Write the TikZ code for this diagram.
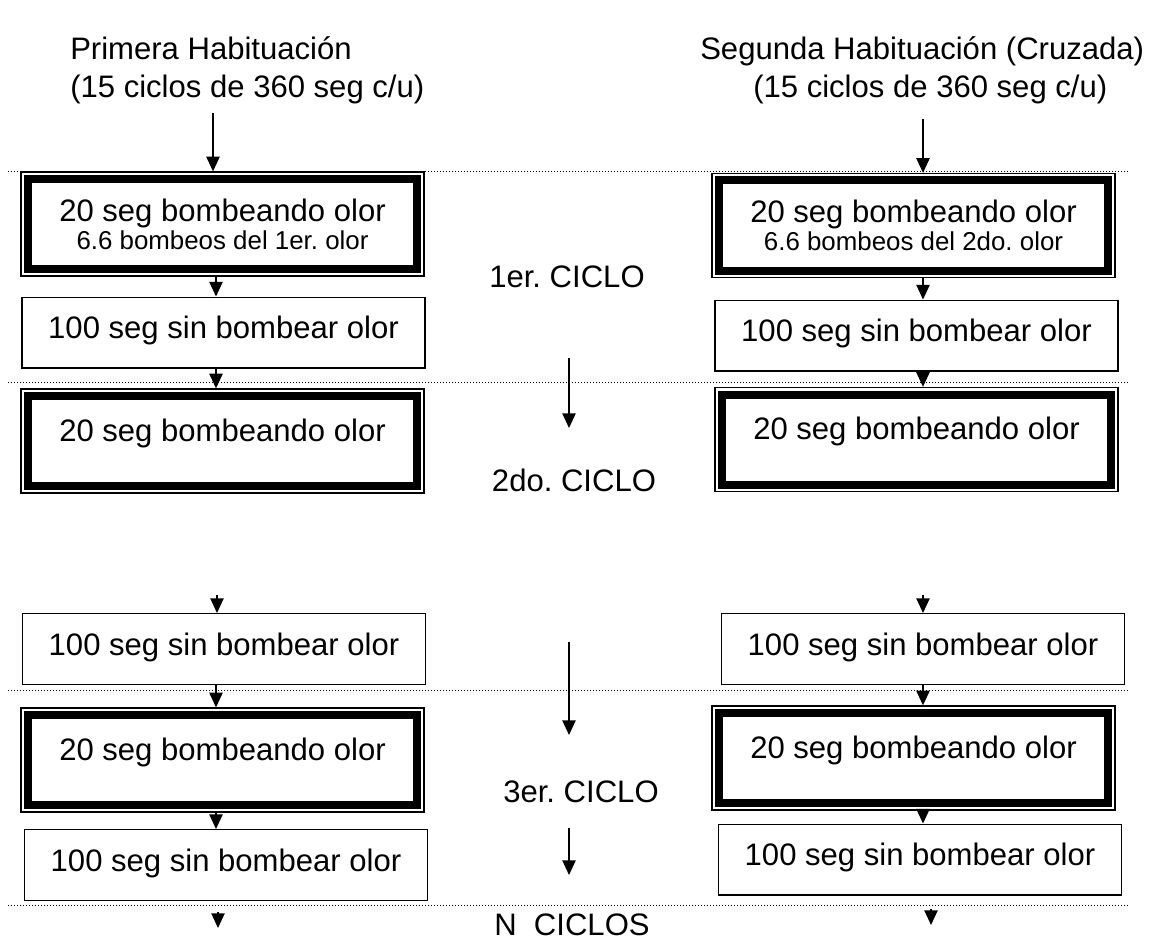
\documentclass[tikz,border=0pt]{standalone}
\usepackage{fontspec}
\setmainfont{Liberation Sans}
\usetikzlibrary{arrows.meta}
\frenchspacing
\tikzset{
  every node/.style={font=\fontsize{23.3}{28}\selectfont, inner sep=0pt},
  pumpbox/.style={draw, line width=1pt, minimum width=302.25pt, minimum height=78pt,
    text height=17pt, text depth=17pt,
    path picture={\draw [line width=6pt] ([shift={(5.25pt,-5.25pt)}]path picture bounding box.north west) rectangle ([shift={(-5.25pt,5.25pt)}]path picture bounding box.south east) ;}},
  restbox/.style={draw, line width=1pt, minimum width=302.25pt, minimum height=53pt,
    text height=17pt, text depth=7.8pt},
  flow/.style={-{Triangle[width=10pt,length=11pt]}, line width=1pt},
  cycleline/.style={line width=0.75pt, dash pattern=on 0.75pt off 1.5pt},
}
\begin{document}
\begin{tikzpicture}[x=0.75pt,y=-0.75pt]
\useasboundingbox (0,0) rectangle (1149,945);

%Straight Lines: cycle separators
\draw [cycleline] (8,172) -- (1128,172) ;
\draw [cycleline] (8,382) -- (1128,382) ;
\draw [cycleline] (8,690) -- (1128,690) ;
\draw [cycleline] (8,905) -- (1128,905) ;

%Text: titles
\node [anchor=base west] (primtit) at (70,60) {Primera Habituación};
\node [anchor=base west] (primsub) at (70,98) {(15 ciclos de 360 seg c/u)};
\node [anchor=base west] (segtit) at (700,60) {Segunda Habituación (Cruzada)};
\node [anchor=base west] (segsub) at (753,98) {(15 ciclos de 360 seg c/u)};

%Shape: Rectangles, first habituation
\node [pumpbox, text height={}, text depth={}, align=center, font=\fontsize{23.3}{21}\selectfont] (pa1) at (222.5,224) {20 seg bombeando olor\\{\fontsize{19.4}{21}\selectfont 6.6 bombeos del 1er. olor}};
\node [restbox] (pb1) at (223.5,332.5) {100 seg sin bombear olor};
\node [pumpbox] (pa2) at (222.5,441) {20 seg bombeando olor};
\node [restbox] (pb2) at (224,649) {100 seg sin bombear olor};
\node [pumpbox] (pa3) at (222.5,760) {20 seg bombeando olor};
\node [restbox] (pb3) at (226,865) {100 seg sin bombear olor};

%Shape: Rectangles, second habituation
\node [pumpbox, text height={}, text depth={}, align=center, font=\fontsize{23.3}{21}\selectfont] (sa1) at (913.5,225.5) {20 seg bombeando olor\\{\fontsize{19.4}{21}\selectfont 6.6 bombeos del 2do. olor}};
\node [restbox] (sb1) at (916.5,335.5) {100 seg sin bombear olor};
\node [pumpbox] (sa2) at (916.5,439.5) {20 seg bombeando olor};
\node [restbox] (sb2) at (923,649) {100 seg sin bombear olor};
\node [pumpbox] (sa3) at (913.5,758) {20 seg bombeando olor};
\node [restbox] (sb3) at (920,859.5) {100 seg sin bombear olor};

%Text: cycles
\node (ciclo1) at (567,277) {1er. CICLO};
\node (ciclo2) at (574,480) {2do. CICLO};
\node (ciclo3) at (581,792) {3er. CICLO};
\node (ciclon) at (572,925) {N\ \ CICLOS};

%Straight Lines: free ends
\coordinate (pst) at (213,113);
\coordinate (pcol) at (216,0);
\coordinate (pre) at (217,595);
\coordinate (pend1) at (218,912);
\coordinate (pend2) at (218,928);
\coordinate (sst) at (923,119);
\coordinate (scol) at (923,0);
\coordinate (sre) at (923,595);
\coordinate (send1) at (931,909);
\coordinate (send2) at (931,925);
\coordinate (m1) at (569,358);
\coordinate (m2) at (569,428);
\coordinate (m3) at (569,642);
\coordinate (m4) at (569,735);
\coordinate (m5) at (569,828);
\coordinate (m6) at (569,875);

%Straight Lines: first habituation
\draw [flow] (pst) -- (pst |- pa1.north) ;
\draw [flow] (pcol |- pa1.south) -- (pcol |- pb1.north) ;
\draw [flow] (pcol |- pb1.south) -- (pcol |- pa2.north) ;
\draw [flow] (pre) -- (pre |- pb2.north) ;
\draw [flow] (pcol |- pb2.south) -- (pcol |- pa3.north) ;
\draw [flow] (pcol |- pa3.south) -- (pcol |- pb3.north) ;
\draw [flow] (pend1) -- (pend2) ;

%Straight Lines: second habituation
\draw [flow] (sst) -- (sst |- sa1.north) ;
\draw [flow] (scol |- sa1.south) -- (scol |- sb1.north) ;
\draw [flow] (scol |- sb1.south) -- (scol |- sa2.north) ;
\draw [flow] (sre) -- (sre |- sb2.north) ;
\draw [flow] (scol |- sb2.south) -- (scol |- sa3.north) ;
\draw [flow] (scol |- sa3.south) -- (scol |- sb3.north) ;
\draw [flow] (send1) -- (send2) ;

%Straight Lines: cycles
\draw [flow] (m1) -- (m2) ;
\draw [flow] (m3) -- (m4) ;
\draw [flow] (m5) -- (m6) ;

\end{tikzpicture}
\end{document}
